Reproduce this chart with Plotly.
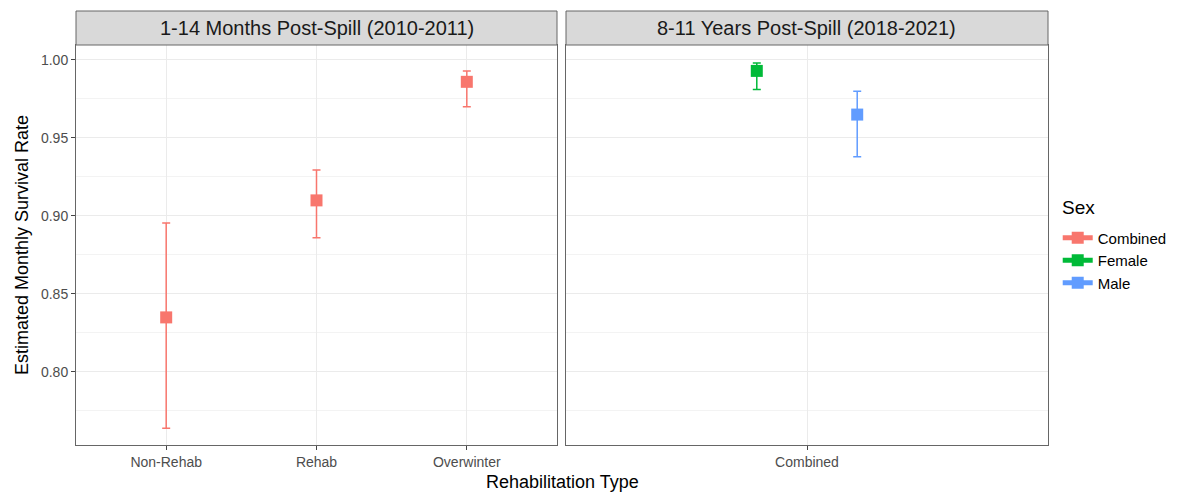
import plotly.graph_objects as go

# Data
panel1_title = "1-14 Months Post-Spill (2010-2011)"
panel2_title = "8-11 Years Post-Spill (2018-2021)"
rehab_types = ["Non-Rehab", "Rehab", "Overwinter"]
rehab_est = [0.835, 0.910, 0.986]
rehab_lo = [0.764, 0.886, 0.970]
rehab_hi = [0.8955, 0.9295, 0.993]

sexes = ["Female", "Male"]
sex_est = [0.993, 0.965]
sex_lo = [0.981, 0.938]
sex_hi = [0.998, 0.980]
panel2_category = "Combined"

colors = {"Combined": "#F8766D", "Female": "#00BA38", "Male": "#619CFF"}

fig = go.Figure()

x1 = list(range(1, len(rehab_types) + 1))
fig.add_trace(go.Scatter(
    x=x1, y=rehab_est, mode="markers",
    marker=dict(symbol="square", size=12, color=colors["Combined"]),
    error_y=dict(type="data", symmetric=False,
                 array=[h - e for h, e in zip(rehab_hi, rehab_est)],
                 arrayminus=[e - l for e, l in zip(rehab_est, rehab_lo)],
                 color=colors["Combined"], thickness=1.5, width=4),
    showlegend=False, xaxis="x", yaxis="y"))

dodge = 0.125
for i, s in enumerate(sexes):
    xpos = 1 + (-dodge if i == 0 else dodge)
    fig.add_trace(go.Scatter(
        x=[xpos], y=[sex_est[i]], mode="markers",
        marker=dict(symbol="square", size=12, color=colors[s]),
        error_y=dict(type="data", symmetric=False,
                     array=[sex_hi[i] - sex_est[i]],
                     arrayminus=[sex_est[i] - sex_lo[i]],
                     color=colors[s], thickness=1.5, width=4),
        showlegend=False, xaxis="x2", yaxis="y2"))

# legend entries
for s in ["Combined", "Female", "Male"]:
    fig.add_trace(go.Scatter(
        x=[None], y=[None], mode="lines+markers", name=s,
        marker=dict(symbol="square", size=10, color=colors[s]),
        line=dict(color=colors[s], width=1.5),
        xaxis="x2", yaxis="y2"))

ytop = 400 / 434
yr = [0.7532, 1.0096]
grid = "#EBEBEB"
border = "#666666"
axis_common = dict(showline=True, mirror=True, linecolor=border, linewidth=1,
                   gridcolor=grid, gridwidth=1, zeroline=False, automargin=False,
                   ticks="outside", ticklen=4, tickcolor="#444444",
                   tickfont=dict(family="Liberation Sans, Arial", size=14, color="#4D4D4D"))
minor = dict(tickvals=[0.775, 0.825, 0.875, 0.925, 0.975], showgrid=True,
             gridcolor="#F3F3F3", ticks="")

# the page body has an 8px default margin, so compensate in the figure size
fig.update_layout(
    width=1175, height=486,
    margin=dict(l=68, r=135, t=3, b=49, autoexpand=False),
    plot_bgcolor="white", paper_bgcolor="white",
    xaxis=dict(domain=[0, 481 / 972], range=[0.4, 3.6], tickvals=x1,
               ticktext=rehab_types, anchor="y", **axis_common),
    xaxis2=dict(domain=[490 / 972, 1], range=[0.4, 1.6], tickvals=[1],
                ticktext=[panel2_category], anchor="y2", **axis_common),
    yaxis=dict(domain=[0, ytop], range=yr, tickvals=[0.80, 0.85, 0.90, 0.95, 1.00],
               ticktext=["0.80", "0.85", "0.90", "0.95", "1.00"],
               minor=minor, anchor="x", **axis_common),
    yaxis2=dict(domain=[0, ytop], range=yr, tickvals=[0.80, 0.85, 0.90, 0.95, 1.00],
                showticklabels=False, ticks="", minor=minor,
                anchor="x2", matches="y",
                **{k: v for k, v in axis_common.items() if k not in ("ticks",)}),
    legend=dict(x=1.01, xanchor="left", y=0.515, yanchor="top",
                font=dict(family="Liberation Sans, Arial", size=15, color="black"),
                tracegroupgap=0, itemsizing="constant"),
    font=dict(family="Liberation Sans, Arial"),
)

# Legend title
fig.add_annotation(xref="paper", yref="paper", x=1.0123, y=0.548, xanchor="left",
                   yanchor="middle", text="Sex", showarrow=False,
                   font=dict(size=19, color="black"))

# Strips
for x0, x1d, title in [(0, 481 / 972, panel1_title), (490 / 972, 1, panel2_title)]:
    fig.add_shape(type="rect", xref="paper", yref="paper", x0=x0, x1=x1d,
                  y0=ytop, y1=1, fillcolor="#D9D9D9", line=dict(color=border, width=1))
    fig.add_annotation(xref="paper", yref="paper", x=(x0 + x1d) / 2, y=(ytop + 1) / 2,
                       text=title, showarrow=False, xanchor="center", yanchor="middle",
                       font=dict(size=20, color="#1A1A1A"))

fig.add_annotation(xref="paper", yref="paper", x=0.5, y=-37 / 434, yanchor="middle",
                   xanchor="center",
                   text="Rehabilitation Type", showarrow=False,
                   font=dict(size=18, color="black"))
fig.add_annotation(xref="paper", yref="paper", x=-54 / 972, y=ytop / 2, xanchor="center",
                   yanchor="middle",
                   text="Estimated Monthly Survival Rate", showarrow=False, textangle=-90,
                   font=dict(size=18, color="black"))

fig.write_html("out.html")
